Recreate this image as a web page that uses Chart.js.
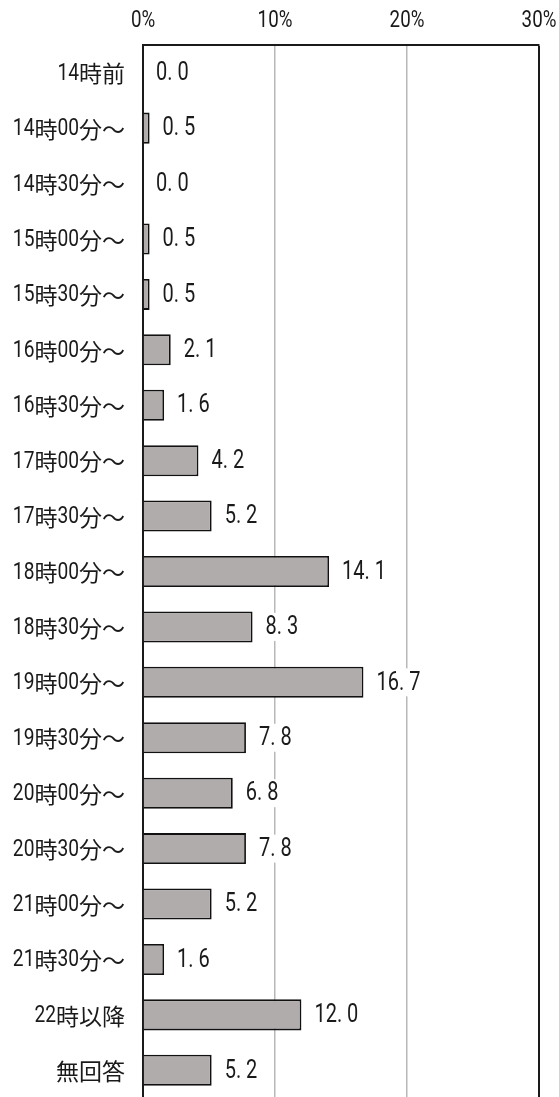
<!DOCTYPE html>
<html lang="ja">
<head>
<meta charset="utf-8">
<script src="https://cdn.jsdelivr.net/npm/chart.js@4.4.1/dist/chart.umd.min.js"></script>
<style>
    html, body { margin: 0; padding: 0; background: #fff; }
    #wrap { width: 559px; height: 1097px; overflow: hidden; position: relative; }
    #wrap canvas { display: block; }
</style>
</head>
<body>
<div id="wrap"><canvas id="timeChart" width="559" height="1099"></canvas></div>
<script>
// 時間帯ごとの回答割合(%)
const timeLabels = [
    '14時前', '14時00分～', '14時30分～', '15時00分～', '15時30分～',
    '16時00分～', '16時30分～', '17時00分～', '17時30分～', '18時00分～',
    '18時30分～', '19時00分～', '19時30分～', '20時00分～', '20時30分～',
    '21時00分～', '21時30分～', '22時以降', '無回答'
];
const percentValues = [
    0.0, 0.5, 0.0, 0.5, 0.5,
    2.1, 1.6, 4.2, 5.2, 14.1,
    8.3, 16.7, 7.8, 6.8, 7.8,
    5.2, 1.6, 12.0, 5.2
];
const axisTicks = [0, 10, 20, 30];

const LATIN = 'Roboto, "Noto Sans", sans-serif';
const CJK = '"Noto Sans CJK JP", sans-serif';
const INK = '#1a1a1a';

// 英数字は細身に詰め、和文はそのままの幅で描く
function drawMixed(ctx, text, x, y, align, st) {
    const runs = text.match(/[\x20-\x7e]+|[^\x20-\x7e]+/g) || [];
    const parts = runs.map(r => {
        const latin = /^[\x20-\x7e]+$/.test(r);
        ctx.font = latin ? st.latin + 'px ' + LATIN : st.cjk + 'px ' + CJK;
        const k = latin ? st.squeeze : 1;
        return { r, font: ctx.font, k, w: ctx.measureText(r).width * k };
    });
    const total = parts.reduce((s, p) => s + p.w, 0);
    let cx = x;
    if (align === 'right') cx = x - total;
    else if (align === 'center') cx = x - total / 2;
    parts.forEach(p => {
        ctx.save();
        ctx.font = p.font;
        ctx.translate(cx, y);
        ctx.scale(p.k, 1);
        ctx.textAlign = 'left';
        ctx.fillText(p.r, 0, 0);
        ctx.restore();
        cx += p.w;
    });
    return total;
}

const tickStyle = { latin: 24, cjk: 23, squeeze: 0.78 };
const catStyle = { latin: 24, cjk: 23, squeeze: 0.8 };
const valStyle = { latin: 25, cjk: 25, squeeze: 0.8 };

// 軸ラベルとバー右側の数値
const chartText = {
    id: 'chartText',
    afterDraw(chart) {
        const ctx = chart.ctx;
        const xs = chart.scales.x;
        const ys = chart.scales.y;
        ctx.save();
        ctx.textBaseline = 'middle';
        ctx.fillStyle = INK;

        axisTicks.forEach(v => {
            drawMixed(ctx, v + '%', xs.getPixelForValue(v), 21, 'center', tickStyle);
        });

        timeLabels.forEach((lab, i) => {
            drawMixed(ctx, lab, 125, ys.getPixelForValue(i) + 1, 'right', catStyle);
        });

        const meta = chart.getDatasetMeta(0);
        meta.data.forEach((bar, i) => {
            const text = percentValues[i].toFixed(1).replace('.', '. ');
            const x = bar.x + 13;
            ctx.font = valStyle.latin + 'px ' + LATIN;
            const w = ctx.measureText(text).width * valStyle.squeeze;
            ctx.fillStyle = '#fff';
            ctx.fillRect(x - 3, bar.y - 14, w + 6, 28);
            ctx.fillStyle = INK;
            drawMixed(ctx, text, x, bar.y + 1, 'left', valStyle);
        });
        ctx.restore();
    }
};

new Chart(document.getElementById('timeChart'), {
    type: 'bar',
    data: {
        labels: timeLabels,
        datasets: [{
            data: percentValues,
            backgroundColor: '#b0acab',
            borderColor: '#111',
            borderWidth: 1.8,
            borderSkipped: 'start',
            categoryPercentage: 1,
            barPercentage: 0.56
        }]
    },
    options: {
        indexAxis: 'y',
        responsive: false,
        animation: false,
        layout: { padding: { top: 0, right: 20, bottom: 1, left: 0 } },
        plugins: {
            legend: { display: false },
            tooltip: { enabled: false }
        },
        scales: {
            x: {
                position: 'top',
                min: 0,
                max: 30,
                afterBuildTicks: function(scale) {
                    scale.ticks = axisTicks.map(v => ({ value: v }));
                },
                afterFit: function(scale) {
                    scale.height = 45;
                    scale.paddingLeft = 0;
                    scale.paddingRight = 0;
                },
                grid: {
                    drawTicks: false,
                    color: function(c) {
                        return c.tick && c.tick.value === 30 ? INK : '#b8b8b8';
                    },
                    lineWidth: function(c) {
                        return c.tick && c.tick.value === 30 ? 2 : 1.5;
                    }
                },
                border: { display: true, color: INK, width: 2 },
                ticks: { display: false }
            },
            y: {
                afterFit: function(scale) {
                    scale.width = 143;
                    scale.paddingTop = 0;
                    scale.paddingBottom = 0;
                },
                grid: { display: false, drawTicks: false },
                border: { display: true, color: INK, width: 2 },
                ticks: { display: false }
            }
        }
    },
    plugins: [chartText]
});
</script>
</body>
</html>
